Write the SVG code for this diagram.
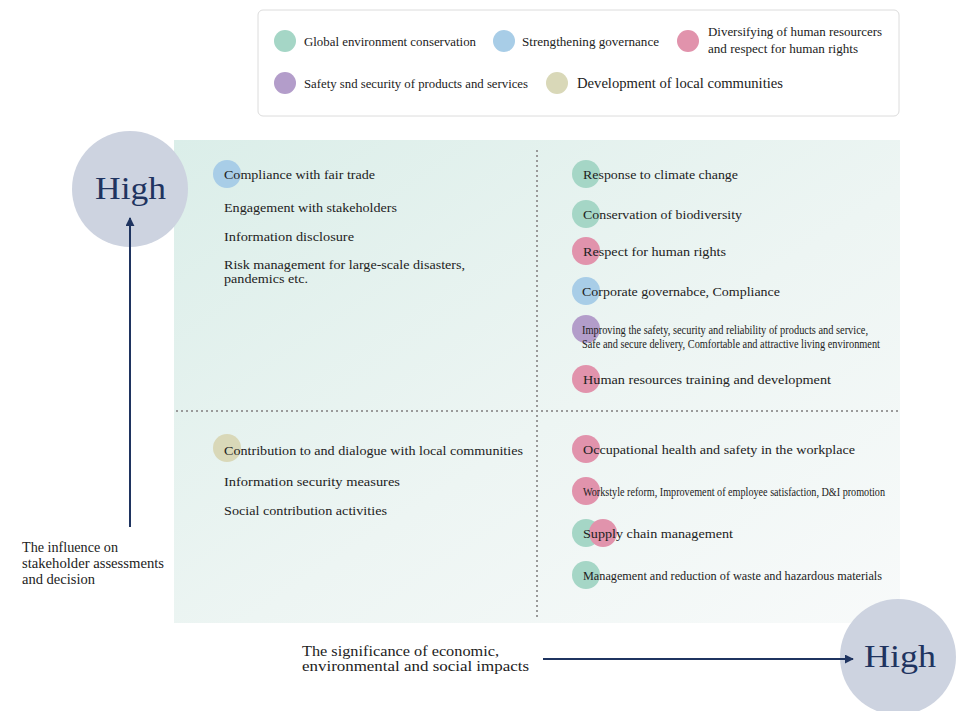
<svg xmlns="http://www.w3.org/2000/svg" width="961" height="711" viewBox="0 0 961 711">
<defs>
<linearGradient id="bg" x1="0" y1="0" x2="1" y2="1">
<stop offset="0" stop-color="#dbeee9"/>
<stop offset="0.55" stop-color="#edf5f3"/>
<stop offset="1" stop-color="#f8fafa"/>
</linearGradient>
<marker id="ah" viewBox="0 0 10 10" refX="9" refY="5" markerWidth="4.5" markerHeight="4.5" orient="auto" markerUnits="strokeWidth">
<path d="M0,0 L10,5 L0,10 z" fill="#1f3460"/>
</marker>
<style>
text{font-family:"Liberation Serif","DejaVu Serif",serif;fill:#222;}
.it{font-size:13px;}
.lg{font-size:13.5px;}
.sm{font-size:12px;}
.ax{font-size:14px;}
.hi{font-size:32px;fill:#1f3460;}
.g{fill:#a5d6c6;}
.b{fill:#a8cde7;}
.p{fill:#e193ac;}
.v{fill:#b39dca;}
.y{fill:#d9d8b8;}
.dot{stroke:#9a9a9a;stroke-width:2;stroke-dasharray:2 3;fill:none;}
.arr{stroke:#1f3460;stroke-width:2;fill:none;}
</style>
</defs>
<rect width="961" height="711" fill="#ffffff"/>

<g id="legend">
<rect x="258" y="10" width="641" height="106" rx="5" fill="#ffffff" stroke="#dcdcdc" stroke-width="1"/>
<circle class="g" cx="285" cy="41" r="11"/>
<text class="lg" x="304" y="46" textLength="172" lengthAdjust="spacingAndGlyphs">Global environment conservation</text>
<circle class="b" cx="504" cy="41" r="11"/>
<text class="lg" x="522" y="46" textLength="137" lengthAdjust="spacingAndGlyphs">Strengthening governance</text>
<circle class="p" cx="688" cy="41" r="11"/>
<text class="lg" x="708" y="36" textLength="174" lengthAdjust="spacingAndGlyphs">Diversifying of human resourcers</text>
<text class="lg" x="708" y="53" textLength="150" lengthAdjust="spacingAndGlyphs">and respect for human rights</text>
<circle class="v" cx="285" cy="83" r="11"/>
<text class="lg" x="304" y="88" textLength="224" lengthAdjust="spacingAndGlyphs">Safety snd security of products and services</text>
<circle class="y" cx="557" cy="83" r="11"/>
<text x="577" y="88" style="font-size:15.5px" textLength="206" lengthAdjust="spacingAndGlyphs">Development of local communities</text>
</g>

<g id="matrix">
<rect x="174" y="140" width="726" height="483" fill="url(#bg)"/>
<line class="dot" x1="537" y1="150" x2="537" y2="618"/>
<line class="dot" x1="176" y1="411" x2="900" y2="411"/>
</g>

<g id="high-vertical">
<circle cx="130" cy="189" r="58" fill="#cdd3e0"/>
<text class="hi" x="95" y="199" textLength="71" lengthAdjust="spacingAndGlyphs">High</text>
</g>
<g id="high-horizontal">
<circle cx="898" cy="657" r="58" fill="#cdd3e0"/>
<text class="hi" x="864" y="667" textLength="72" lengthAdjust="spacingAndGlyphs">High</text>
</g>

<g id="connectors">
<line class="arr" x1="130" y1="527" x2="130" y2="218" marker-end="url(#ah)"/>
<line class="arr" x1="543" y1="659" x2="853" y2="659" marker-end="url(#ah)"/>
</g>

<g id="axis-labels">
<text class="ax" x="22" y="552" textLength="96" lengthAdjust="spacingAndGlyphs">The influence on</text>
<text class="ax" x="22" y="568" textLength="142" lengthAdjust="spacingAndGlyphs">stakeholder assessments</text>
<text class="ax" x="22" y="584" textLength="73" lengthAdjust="spacingAndGlyphs">and decision</text>
<text class="ax" x="302" y="656" textLength="197" lengthAdjust="spacingAndGlyphs">The significance of economic,</text>
<text class="ax" x="302" y="671" textLength="227" lengthAdjust="spacingAndGlyphs">environmental and social impacts</text>
</g>

<g id="q-top-left">
<circle class="b" cx="227" cy="174" r="14"/>
<text class="it" x="224" y="179" textLength="151" lengthAdjust="spacingAndGlyphs">Compliance with fair trade</text>
<text class="it" x="224" y="212" textLength="173" lengthAdjust="spacingAndGlyphs">Engagement with stakeholders</text>
<text class="it" x="224" y="241" textLength="130" lengthAdjust="spacingAndGlyphs">Information disclosure</text>
<text x="224" y="269" style="font-size:12.5px" textLength="241" lengthAdjust="spacingAndGlyphs">Risk management for large-scale disasters,</text>
<text x="224" y="283" style="font-size:12.5px" textLength="84" lengthAdjust="spacingAndGlyphs">pandemics etc.</text>
</g>

<g id="q-top-right">
<circle class="g" cx="586" cy="174" r="14"/>
<text class="it" x="583" y="179" textLength="155" lengthAdjust="spacingAndGlyphs">Response to climate change</text>
<circle class="g" cx="586" cy="214" r="14"/>
<text class="it" x="583" y="219" textLength="159" lengthAdjust="spacingAndGlyphs">Conservation of biodiversity</text>
<circle class="p" cx="586" cy="251" r="14"/>
<text class="it" x="583" y="256" textLength="143" lengthAdjust="spacingAndGlyphs">Respect for human rights</text>
<circle class="b" cx="586" cy="291" r="14"/>
<text class="it" x="582" y="296" textLength="198" lengthAdjust="spacingAndGlyphs">Corporate governabce, Compliance</text>
<circle class="v" cx="586" cy="329" r="14"/>
<text class="sm" x="582" y="334" textLength="286" lengthAdjust="spacingAndGlyphs">Improving the safety, security and reliability of products and service,</text>
<text class="sm" x="582" y="348" textLength="298" lengthAdjust="spacingAndGlyphs">Safe and secure delivery, Comfortable and attractive living environment</text>
<circle class="p" cx="586" cy="379" r="14"/>
<text class="it" x="583" y="384" textLength="248" lengthAdjust="spacingAndGlyphs">Human resources training and development</text>
</g>

<g id="q-bottom-left">
<circle class="y" cx="227" cy="448" r="14"/>
<text class="it" x="224" y="455" textLength="299" lengthAdjust="spacingAndGlyphs">Contribution to and dialogue with local communities</text>
<text class="it" x="224" y="486" textLength="176" lengthAdjust="spacingAndGlyphs">Information security measures</text>
<text class="it" x="224" y="515" textLength="163" lengthAdjust="spacingAndGlyphs">Social contribution activities</text>
</g>

<g id="q-bottom-right">
<circle class="p" cx="586" cy="449" r="14"/>
<text class="it" x="583" y="454" textLength="272" lengthAdjust="spacingAndGlyphs">Occupational health and safety in the workplace</text>
<circle class="p" cx="586" cy="491" r="14"/>
<text class="sm" x="583" y="496" textLength="302" lengthAdjust="spacingAndGlyphs">Workstyle reform, Improvement of employee satisfaction, D&amp;I promotion</text>
<circle class="g" cx="586" cy="533" r="14"/>
<circle class="p" cx="603" cy="533" r="14"/>
<text class="it" x="583" y="538" textLength="150" lengthAdjust="spacingAndGlyphs">Supply chain management</text>
<circle class="g" cx="586" cy="575" r="14"/>
<text x="583" y="580" style="font-size:13.5px" textLength="299" lengthAdjust="spacingAndGlyphs">Management and reduction of waste and hazardous materials</text>
</g>
</svg>
